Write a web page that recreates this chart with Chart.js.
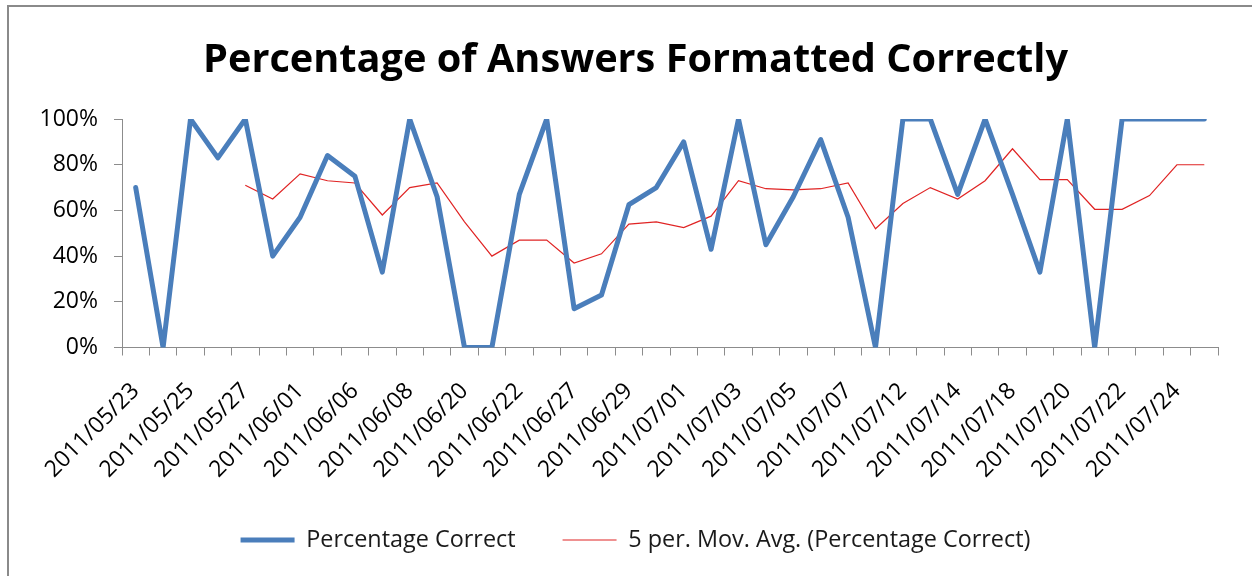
<!DOCTYPE html>
<html>
<head>
<meta charset="utf-8">
<script src="https://cdn.jsdelivr.net/npm/chart.js@4.4.1/dist/chart.umd.min.js"></script>
<style>
  html, body { margin: 0; padding: 0; background: #fff; overflow: hidden; width: 1252px; height: 576px; }
  #frame { position: absolute; left: 7px; top: 5px; width: 1270px; height: 600px; border: 2px solid #8a8a8a; background: #fff; }
  #c { position: absolute; left: 0; top: 0; }
</style>
</head>
<body>
<div id="frame"><canvas id="c" width="1246" height="569"></canvas></div>
<script>
// Tick labels shown on the x axis (every other category)
const tickLabels = ['2011/05/23','2011/05/25','2011/05/27','2011/06/01','2011/06/06','2011/06/08','2011/06/20','2011/06/22','2011/06/27','2011/06/29','2011/07/01','2011/07/03','2011/07/05','2011/07/07','2011/07/12','2011/07/14','2011/07/18','2011/07/20','2011/07/22','2011/07/24'];

// Percentage Correct (%), one value per category (40 categories)
const percentageCorrect = [70, 0, 100, 83, 100, 40, 57, 84, 75, 33,
                           100, 66, 0, 0, 67, 100, 17, 23, 62.5, 70,
                           90, 43, 100, 45, 66, 91, 57, 0, 100, 100,
                           67, 100, 67, 33, 100, 0, 100, 100, 100, 100];

// 5 per. Mov. Avg. (%)
const movingAvg = [null, null, null, null, 71, 65, 76, 73, 72, 58,
                   70, 72, 55, 40, 47, 47, 37, 41, 54, 55,
                   52.5, 57.5, 73, 69.5, 69, 69.5, 72, 52, 63, 70,
                   65, 73, 87, 73.5, 73.5, 60.5, 60.5, 66.5, 80, 80];

const yTicks = [0, 20, 40, 60, 80, 100];

// categories: labelled dates on even positions, unlabelled in between
const categories = percentageCorrect.map((_, i) => (i % 2 === 0 ? tickLabels[i / 2] : ''));

const axisColor = '#8c8c8c';
const tickFont = { family: 'Open Sans', size: 23 };
const padLeft = 7;

new Chart(document.getElementById('c'), {
  type: 'line',
  data: {
    labels: categories,
    datasets: [
      {
        label: 'Percentage Correct',
        data: percentageCorrect,
        borderColor: '#4a7ebb',
        backgroundColor: '#4a7ebb',
        borderWidth: 5,
        pointRadius: 0,
        tension: 0,
        borderJoinStyle: 'round',
        borderCapStyle: 'round'
      },
      {
        label: '5 per. Mov. Avg. (Percentage Correct)',
        data: movingAvg,
        borderColor: '#e02424',
        backgroundColor: '#e02424',
        borderWidth: 1.2,
        pointRadius: 0,
        tension: 0
      }
    ]
  },
  options: {
    responsive: false,
    animation: false,
    devicePixelRatio: 1,
    layout: { padding: { left: padLeft, right: 0, top: 0, bottom: 14.3 } },
    plugins: {
      title: {
        display: true,
        text: 'Percentage of Answers Formatted Correctly',
        color: '#000',
        font: { family: 'Open Sans', size: 39.7, weight: 'bold' },
        padding: { top: 29.5, bottom: 34.9 }
      },
      legend: {
        position: 'bottom',
        labels: {
          usePointStyle: true,
          pointStyle: 'line',
          pointStyleWidth: 54,
          color: '#1a1a1a',
          font: { family: 'Open Sans', size: 23.4 },
          padding: 47
        }
      },
      tooltip: { enabled: false }
    },
    scales: {
      x: {
        offset: true,
        grid: { offset: true, drawOnChartArea: false, drawTicks: true, tickLength: 8, color: axisColor },
        border: { color: axisColor, width: 1 },
        ticks: { autoSkip: false, minRotation: 45, maxRotation: 45, color: '#000', font: tickFont, padding: 22 },
        afterFit: (s) => { s.height = 133.8; s.paddingRight = 37; }
      },
      y: {
        min: 0,
        max: 100,
        afterBuildTicks: (s) => { s.ticks = yTicks.map(v => ({ value: v })); },
        grid: { drawOnChartArea: false, drawTicks: true, tickLength: 8, color: axisColor },
        border: { color: axisColor, width: 1 },
        ticks: { color: '#000', font: tickFont, padding: 16, callback: (v) => v + '%' },
        afterFit: (s) => { s.width = 113 - padLeft; }
      }
    }
  }
});
</script>
</body>
</html>
